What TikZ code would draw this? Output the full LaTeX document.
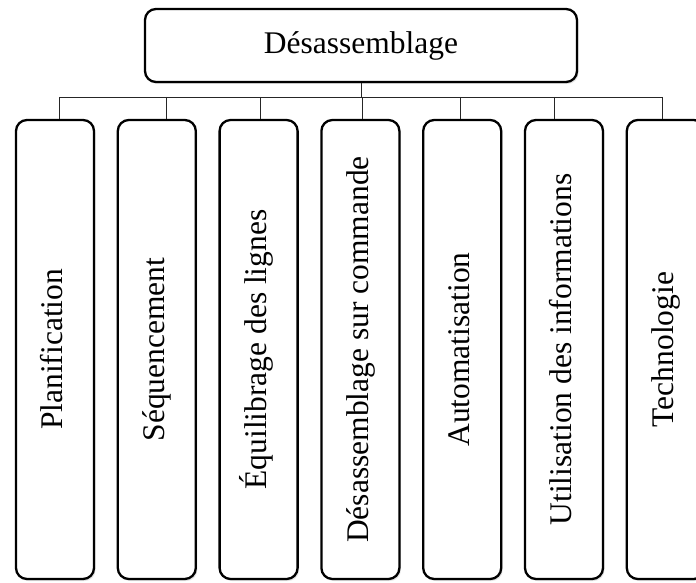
\documentclass[tikz,border=0pt]{standalone}
\usepackage{fontspec}
\setmainfont{Liberation Serif}
\usepackage{graphicx}
\usetikzlibrary{shadows}

\tikzset{
    box/.style = {draw, line width=2.3pt, rounded corners=11pt, fill=white,
        drop shadow={opacity=0.22, shadow xshift=1.5pt, shadow yshift=-2pt}},
    branch/.style = {box, minimum width=78pt, minimum height=459pt, inner sep=0pt},
    link/.style = {line width=0.9pt, black!85}
}

\begin{document}
\begin{tikzpicture}[
            x = 1pt, y = -1pt, % one unit per pixel, going down
            node distance = 101.8pt, % centre to centre of the branches
            font = \fontsize{31.5}{38}\selectfont
        ]
	\useasboundingbox (0,0) rectangle (696,583);

	\node[box, minimum width=432pt, minimum height=73pt] (top) at (361,45.5) {Désassemblage};

	\node[branch] (plan) at (55,349.5) {\rotatebox{90}{\strut Planification}};
	\node[branch] (seq) [right of=plan] {\rotatebox{90}{\strut Séquencement}};
	\node[branch] (equi) [right of=seq] {\rotatebox{90}{\strut Équilibrage des lignes}};
	\node[branch] (cmd) [right of=equi] {\rotatebox{90}{\strut Désassemblage sur commande}};
	\node[branch] (autom) [right of=cmd] {\rotatebox{90}{\strut Automatisation}};
	\node[branch] (info) [right of=autom] {\rotatebox{90}{\strut Utilisation des informations}};
	\node[branch] (tech) [right of=info] {\rotatebox{90}{\strut Technologie}};

	\coordinate (barL) at (59,97);
	\coordinate (barR) at (662,97);
	\draw[link] (barL) -- (barR);
	\draw[link] (top.south) -- (top.south |- barL);
	\foreach \n/\x in {plan/59, seq/166, equi/260, cmd/362, autom/460, info/554, tech/662}
		\draw[link] (\x,97) -- (\x,97 |- \n.north);

\end{tikzpicture}
\end{document}
